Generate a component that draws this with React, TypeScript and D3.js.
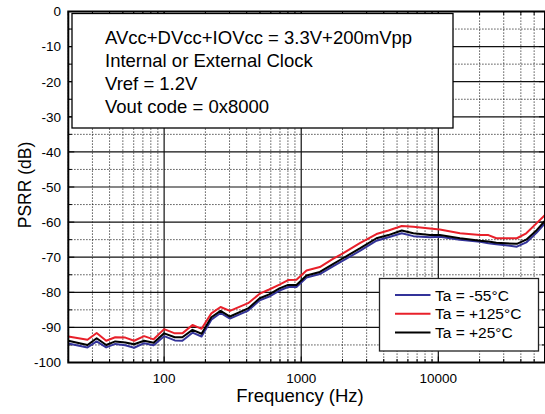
import React from "react";
import * as d3 from "d3";

const freqs = [20, 27.6, 32.2, 37.8, 44, 52.1, 60.4, 71.5, 83.8, 100, 119.7, 135.8, 161, 187.5, 221, 258, 302, 410, 498, 584, 694, 802, 923, 1093, 1367, 1703, 2015, 2677, 3539, 4324, 5410, 6577, 8683, 10255, 14390, 20200, 23200, 26500, 37400, 43800, 52200, 60000];
const psrrP125 = [-92.6, -93.5, -91.6, -93.8, -92.8, -92.9, -93.8, -92.5, -93.4, -90.5, -91.7, -91.7, -89.3, -90.4, -86.0, -84.2, -85.3, -83.1, -80.4, -79.2, -77.8, -76.5, -76.4, -73.8, -72.8, -70.5, -68.9, -66.0, -63.4, -62.4, -61.1, -61.3, -61.8, -62.1, -63.2, -63.7, -63.7, -64.6, -64.6, -63.2, -60.3, -58.0];
const psrrP25 = [-93.8, -95.0, -93.1, -95.0, -94.0, -94.3, -94.8, -93.8, -94.4, -91.7, -92.8, -92.8, -90.7, -91.8, -87.1, -85.3, -86.9, -84.6, -81.7, -80.6, -78.9, -77.9, -77.9, -75.2, -74.2, -72.0, -70.3, -67.5, -64.6, -63.7, -62.4, -63.2, -63.7, -63.7, -64.6, -65.3, -65.5, -65.9, -66.2, -65.0, -62.3, -59.6];
const psrrM55 = [-94.6, -95.7, -94.0, -95.7, -94.7, -95.1, -95.8, -94.5, -95.1, -92.5, -93.7, -93.8, -91.5, -92.6, -87.8, -85.9, -87.5, -85.2, -82.3, -81.2, -79.5, -78.5, -78.5, -75.8, -74.8, -72.6, -71.0, -68.2, -65.3, -64.3, -63.2, -64.0, -64.3, -64.2, -65.0, -65.6, -66.0, -66.3, -67.0, -65.8, -63.0, -60.3];

const xTickLabels = [100, 1000, 10000];
const yTickValues = [0, -10, -20, -30, -40, -50, -60, -70, -80, -90, -100];
const infoLines = ["AVcc+DVcc+IOVcc = 3.3V+200mVpp", "Internal or External Clock", "Vref = 1.2V", "Vout code = 0x8000"];
const legendLabels = ["Ta = -55°C", "Ta = +125°C", "Ta = +25°C"];
const legendColors = ["#333399", "#e8202a", "#000000"];

const FONT = "'Liberation Sans', Arial, Helvetica, sans-serif";

export default function App() {
  const L = 68.3, R = 545, T = 11.5, B = 362.5;
  const x = d3.scaleLog().domain([20, 60000]).range([L, R]);
  const y = d3.scaleLinear().domain([-100, 0]).range([B, T]);

  const xMinor: number[] = [];
  for (let dec = 10; dec <= 10000; dec *= 10) {
    for (let m = 2; m <= 9; m++) {
      const v = dec * m;
      if (v >= 20 && v <= 60000) xMinor.push(v);
    }
  }
  const xMajor = [100, 1000, 10000];
  const yMajor = d3.range(-90, 0, 10);
  const yMinor = d3.range(-95, 0, 10);

  const line = (vals: number[]) =>
    d3.line<number>().x((_, i) => x(freqs[i])).y((v) => y(v))(vals) || "";

  const series = [
    { vals: psrrM55, color: legendColors[0] },
    { vals: psrrP125, color: legendColors[1] },
    { vals: psrrP25, color: legendColors[2] },
  ];

  return (
    <svg width={545} height={414} style={{ position: "absolute", left: 0, top: 0, background: "#fff" }} fontFamily={FONT}>
      <rect x={0} y={0} width={545} height={414} fill="#fff" />
      {xMinor.filter((v) => !xMajor.includes(v)).map((v) => (
        <line key={"xm" + v} x1={x(v)} x2={x(v)} y1={T} y2={B} stroke="#111" strokeWidth={0.9} strokeDasharray="1.2,1.8" />
      ))}
      {yMinor.map((v) => (
        <line key={"ym" + v} x1={L} x2={R} y1={y(v)} y2={y(v)} stroke="#111" strokeWidth={0.9} strokeDasharray="1.2,1.8" />
      ))}
      {xMajor.map((v) => (
        <line key={"xM" + v} x1={x(v)} x2={x(v)} y1={T} y2={B} stroke="#111" strokeWidth={1.2} />
      ))}
      {yMajor.map((v) => (
        <line key={"yM" + v} x1={L} x2={R} y1={y(v)} y2={y(v)} stroke="#111" strokeWidth={1.2} />
      ))}

      {xMinor.concat(xMajor).map((v) => {
        const len = xMajor.includes(v) ? 6 : 3.5;
        return (
          <g key={"xt" + v}>
            <line x1={x(v)} x2={x(v)} y1={B} y2={B - len} stroke="#000" strokeWidth={1} />
            <line x1={x(v)} x2={x(v)} y1={T} y2={T + len} stroke="#000" strokeWidth={1} />
          </g>
        );
      })}
      {d3.range(-100, 1, 5).map((v) => {
        const len = v % 10 === 0 ? 6 : 3.5;
        return (
          <g key={"yt" + v}>
            <line x1={L} x2={L + len} y1={y(v)} y2={y(v)} stroke="#000" strokeWidth={1} />
            <line x1={R} x2={R - len} y1={y(v)} y2={y(v)} stroke="#000" strokeWidth={1} />
          </g>
        );
      })}

      {series.map((s, i) => (
        <path key={"s" + i} d={line(s.vals)} fill="none" stroke={s.color} strokeWidth={2} strokeLinejoin="round" />
      ))}

      <rect x={72} y={13.5} width={381} height={114.5} fill="#fff" stroke="#000" strokeWidth={1.3} />
      {infoLines.map((t, i) => (
        <text key={"il" + i} x={105} y={43.5 + i * 23.3} fontSize={18.5} fill="#000">{t}</text>
      ))}

      <rect x={379.5} y={278.5} width={159} height={72.5} fill="#fff" stroke="#222" strokeWidth={1.3} />
      {legendLabels.map((t, i) => {
        const cy = 295 + i * 18.8;
        return (
          <g key={"lg" + i}>
            <line x1={395} x2={430.5} y1={cy} y2={cy} stroke={legendColors[i]} strokeWidth={2} />
            <text x={435} y={cy + 5.5} fontSize={15.5} fill="#000">{t}</text>
          </g>
        );
      })}

      <rect x={L} y={T} width={R - L} height={B - T} fill="none" stroke="#000" strokeWidth={2} />

      {xTickLabels.map((v) => (
        <text key={"xl" + v} x={x(v)} y={383} fontSize={13.5} textAnchor="middle" fill="#000">{v}</text>
      ))}
      {yTickValues.map((v) => (
        <text key={"yl" + v} x={61} y={y(v) + 4.8} fontSize={13.5} textAnchor="end" fill="#000">{v}</text>
      ))}
      <text x={300} y={402} fontSize={18.5} textAnchor="middle" fill="#000">Frequency (Hz)</text>
      <text transform={`translate(30.5,185) rotate(-90)`} fontSize={17.5} textAnchor="middle" fill="#000">PSRR (dB)</text>
    </svg>
  );
}
